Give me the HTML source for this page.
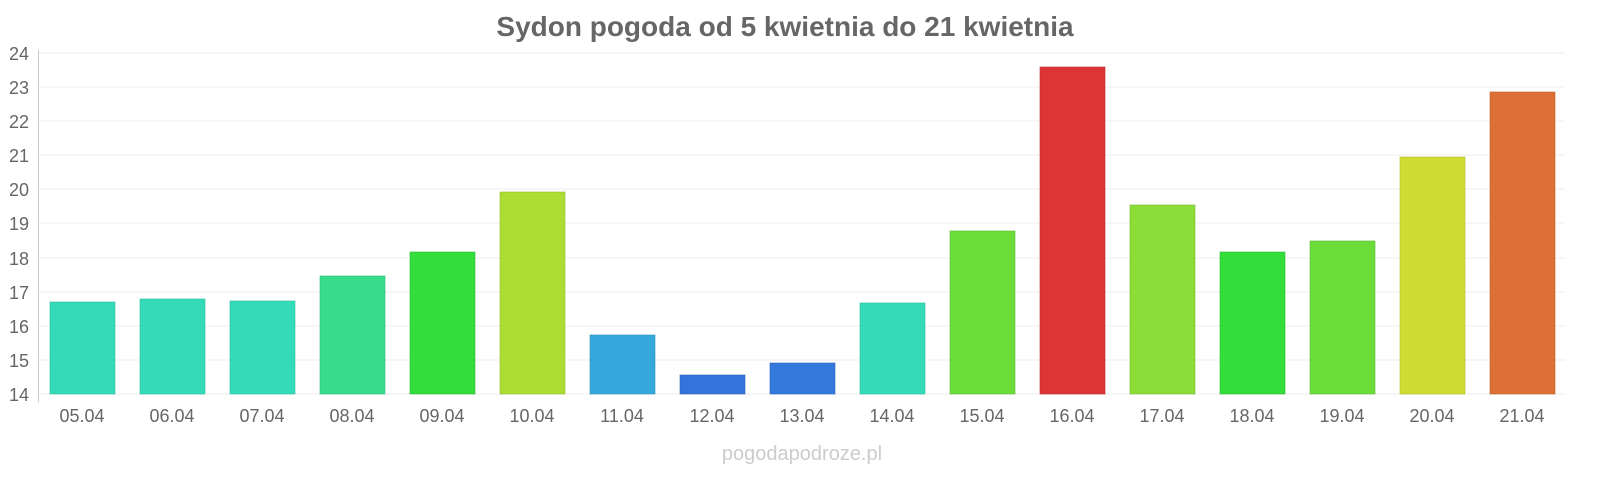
<!DOCTYPE html>
<html><head><meta charset="utf-8"><style>body{margin:0;background:#fff}svg{display:block}text{font-family:"Liberation Sans",sans-serif}</style></head><body>
<svg width="1600" height="480" viewBox="0 0 1600 480">
<text x="785" y="36" text-anchor="middle" font-size="28" font-weight="bold" fill="#666">Sydon pogoda od 5 kwietnia do 21 kwietnia</text>
<g stroke="#eee" stroke-width="1">
<line x1="38" x2="1565" y1="53" y2="53"/><line x1="38" x2="1565" y1="87" y2="87"/><line x1="38" x2="1565" y1="121" y2="121"/><line x1="38" x2="1565" y1="155" y2="155"/><line x1="38" x2="1565" y1="189" y2="189"/><line x1="38" x2="1565" y1="223" y2="223"/><line x1="38" x2="1565" y1="258" y2="258"/><line x1="38" x2="1565" y1="292" y2="292"/><line x1="38" x2="1565" y1="326" y2="326"/><line x1="38" x2="1565" y1="360" y2="360"/><line x1="38" x2="1565" y1="394" y2="394"/>
</g>
<line x1="38.5" x2="38.5" y1="50" y2="402" stroke="#ccc"/>
<g font-size="18" fill="#666" text-anchor="end">
<text x="29" y="60">24</text><text x="29" y="94">23</text><text x="29" y="128">22</text><text x="29" y="162">21</text><text x="29" y="196">20</text><text x="29" y="230">19</text><text x="29" y="265">18</text><text x="29" y="299">17</text><text x="29" y="333">16</text><text x="29" y="367">15</text><text x="29" y="401">14</text>
</g>
<g stroke-opacity="0.6">
<rect x="50" y="302" width="65" height="92" fill="#34dbb8" stroke="#2bbd9c"/>
<rect x="140" y="299" width="65" height="95" fill="#34dbb8" stroke="#2bbd9c"/>
<rect x="230" y="301" width="65" height="93" fill="#34dbb8" stroke="#2bbd9c"/>
<rect x="320" y="276" width="65" height="118" fill="#36db8c" stroke="#2bbd75"/>
<rect x="410" y="252" width="65" height="142" fill="#33dd3a" stroke="#2abb30"/>
<rect x="500" y="192" width="65" height="202" fill="#acdd33" stroke="#92bb2a"/>
<rect x="590" y="335" width="65" height="59" fill="#36a8db" stroke="#2b8dbb"/>
<rect x="680" y="375" width="65" height="19" fill="#3473db" stroke="#2b60bb"/>
<rect x="770" y="363" width="65" height="31" fill="#3478db" stroke="#2b64bb"/>
<rect x="860" y="303" width="65" height="91" fill="#34dbb8" stroke="#2bbd9c"/>
<rect x="950" y="231" width="65" height="163" fill="#6cdd38" stroke="#5bbb2f"/>
<rect x="1040" y="67" width="65" height="327" fill="#dd3535" stroke="#bb2c2c"/>
<rect x="1130" y="205" width="65" height="189" fill="#8bdd38" stroke="#75bb2f"/>
<rect x="1220" y="252" width="65" height="142" fill="#33dd3a" stroke="#2abb30"/>
<rect x="1310" y="241" width="65" height="153" fill="#6cdd38" stroke="#5bbb2f"/>
<rect x="1400" y="157" width="65" height="237" fill="#cfdd33" stroke="#afbb2a"/>
<rect x="1490" y="92" width="65" height="302" fill="#dd7035" stroke="#bb5f2c"/>
</g>
<g font-size="18" fill="#666" text-anchor="middle">
<text x="82" y="422">05.04</text><text x="172" y="422">06.04</text><text x="262" y="422">07.04</text><text x="352" y="422">08.04</text><text x="442" y="422">09.04</text><text x="532" y="422">10.04</text><text x="622" y="422">11.04</text><text x="712" y="422">12.04</text><text x="802" y="422">13.04</text><text x="892" y="422">14.04</text><text x="982" y="422">15.04</text><text x="1072" y="422">16.04</text><text x="1162" y="422">17.04</text><text x="1252" y="422">18.04</text><text x="1342" y="422">19.04</text><text x="1432" y="422">20.04</text><text x="1522" y="422">21.04</text>
</g>
<text x="802" y="460" text-anchor="middle" font-size="20" fill="#ccc">pogodapodroze.pl</text>
</svg>
</body></html>
